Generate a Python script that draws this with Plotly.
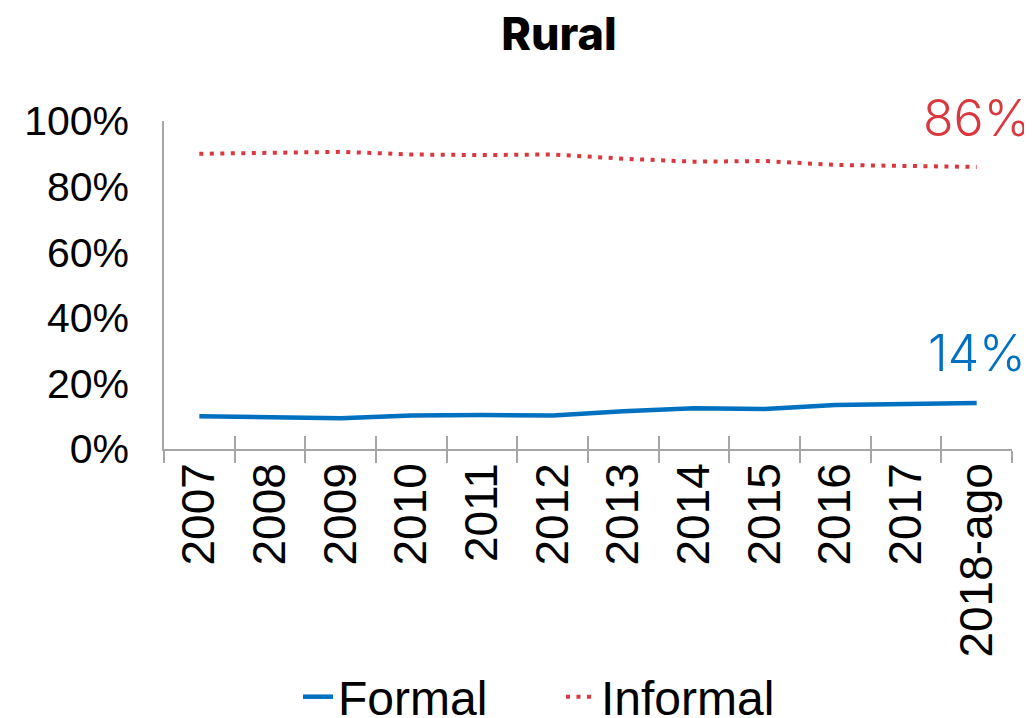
import plotly.graph_objects as go

categories = ["2007", "2008", "2009", "2010", "2011", "2012", "2013", "2014",
              "2015", "2016", "2017", "2018-ago"]
formal = [10.0, 9.8, 9.4, 10.2, 10.4, 10.2, 11.5, 12.4, 12.2, 13.4, 13.8, 14.0]
informal = [90.0, 90.2, 90.6, 89.8, 89.6, 89.8, 88.5, 87.6, 87.8, 86.6, 86.2, 86.0]
y_ticks = [0, 20, 40, 60, 80, 100]
y_ticktext = [f"{v}%" for v in y_ticks]
title_text = "Rural"

BLUE = "#0070C0"
RED = "#D9383E"
GRAY = "#A6A6A6"

# page has an 8px body margin; figure is sized so it fits the 1032x718 window
W, H = 1024, 710

fig = go.Figure()
fig.add_trace(go.Scatter(x=categories, y=formal, mode="lines", name="Formal",
                         line=dict(color=BLUE, width=4.5)))
fig.add_trace(go.Scatter(x=categories, y=informal, mode="lines", name="Informal",
                         line=dict(color=RED, width=4, dash="4px,6.5px")))
# invisible trace for the overlay axis (inside half of crossing ticks)
fig.add_trace(go.Scatter(x=categories, y=formal, mode="lines", xaxis="x2",
                         line=dict(color="rgba(0,0,0,0)"), showlegend=False,
                         hoverinfo="skip"))

fig.add_annotation(x=categories[-1], y=informal[-1], text=f"{informal[-1]:.0f}%",
                   showarrow=False, yshift=49, yanchor="middle",
                   font=dict(family="Inter", size=50, color=RED, weight=300))
fig.add_annotation(x=categories[-1], y=formal[-1], text=f"{formal[-1]:.0f}%",
                   showarrow=False, yshift=50, yanchor="middle",
                   font=dict(family="Inter", size=50, color=BLUE, weight=300))

fig.update_layout(
    width=W, height=H,
    margin=dict(l=156, r=20, t=113, b=269),
    paper_bgcolor="white", plot_bgcolor="white",
    title=dict(text=title_text, x=551 / W, xanchor="center", y=1 - 26 / H,
               yanchor="middle",
               font=dict(family="Inter", size=45, color="black", weight=800)),
    font=dict(family="Liberation Sans", color="black"),
    xaxis=dict(type="category", categoryorder="array", categoryarray=categories,
               showline=True, linecolor=GRAY, linewidth=1.5,
               ticks="outside", ticklen=12, tickwidth=1.5, tickcolor=GRAY,
               tickson="boundaries", tickangle=-90, showgrid=False,
               automargin=False, ticklabelstandoff=-6,
               tickfont=dict(family="Liberation Sans", size=46, color="black"),
               range=[-0.5, len(categories) - 0.5]),
    xaxis2=dict(type="category", overlaying="x", anchor="y", side="bottom",
                categoryorder="array", categoryarray=categories,
                ticks="inside", ticklen=13, tickwidth=1.5, tickcolor=GRAY,
                tickson="boundaries", showticklabels=False, showgrid=False,
                showline=False, automargin=False,
                range=[-0.5, len(categories) - 0.5]),
    yaxis=dict(range=[0, 100], tickmode="array", tickvals=y_ticks,
               ticktext=y_ticktext, automargin=False,
               showline=True, linecolor=GRAY, linewidth=1.5, showgrid=False,
               zeroline=False, ticks="", ticklabelstandoff=25,
               tickfont=dict(family="Liberation Sans", size=41, color="black")),
    legend=dict(orientation="h", x=0.158, xanchor="left",
                yref="container", y=1 - 689 / H, yanchor="middle",
                entrywidth=218,
                font=dict(family="Liberation Sans", size=48),
                bgcolor="rgba(0,0,0,0)"),
)

fig.write_html("out.html")
